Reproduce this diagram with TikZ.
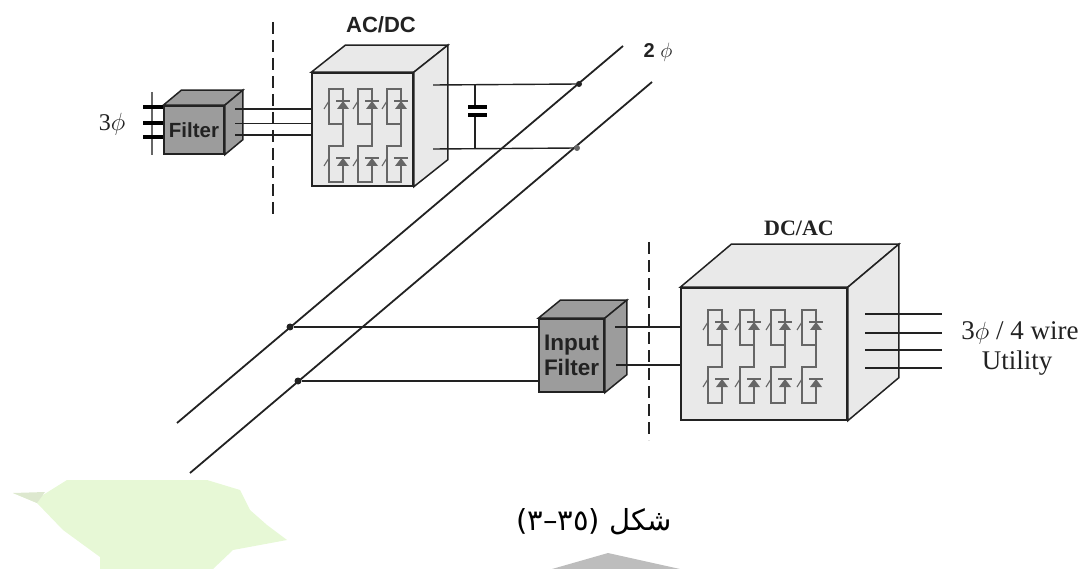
\documentclass[tikz,border=0pt]{standalone}
\usepackage{fontspec}
\setmainfont{Liberation Serif}
\setsansfont{Liberation Sans}
\newfontfamily\arabicfont[Script=Arabic]{DejaVu Sans}
\TeXXeTstate=1
\usepackage{xcolor}
\usepackage{tikz}
\usetikzlibrary{positioning}
\definecolor{pwInk}{HTML}{222222}
\definecolor{pwCell}{HTML}{666666}
\definecolor{pwLight}{HTML}{E9E9E9}
\definecolor{pwFilter}{HTML}{9C9C9C}
\definecolor{pwLeaf}{HTML}{E7F8D6}
\definecolor{pwLeafTip}{HTML}{DDE8CF}
\definecolor{pwMark}{HTML}{BDBDBD}
\tikzset{
  pw diagram/.style={x=1pt, y=-1pt, line cap=butt, line join=miter},
  pw conv/.style={draw=pwInk, fill=pwLight, line width=1.5pt, inner sep=0pt},
  pw filter/.style={draw=pwInk, fill=pwFilter, line width=1.5pt, inner sep=0pt,
    font=\sffamily\bfseries\fontsize{22.5}{25}\selectfont, text=pwInk, align=center},
  pw wire/.style={draw=pwInk, line width=1.4pt},
  pw bus/.style={draw=pwInk, line width=1.8pt},
  pw stub/.style={draw=black, line width=4.5pt},
  pw split/.style={draw=pwInk, line width=1.5pt, dash pattern=on 12pt off 6pt},
  pw dot/.style={circle, fill=pwInk, inner sep=0pt, minimum size=7pt},
  pw plate/.style={inner sep=0pt, minimum width=19pt, minimum height=4.5pt, fill=black},
  pw cell/.style={draw=pwCell, line width=1.1pt},
  pw text/.style={font=\fontsize{27}{30}\selectfont, text=pwInk, inner sep=0pt, align=center}
}
% top and side faces of a box, #1 front node, (#2,#3) depth
\newcommand{\boxfaces}[4]{
  \draw[draw=pwInk, fill=#4, line width=1.5pt]
    (#1.north west) -- ++(#2,#3) -- ([shift={(#2,#3)}]#1.north east)
    -- (#1.north east) -- cycle;
  \draw[draw=pwInk, fill=#4, line width=1.5pt]
    (#1.north east) -- ++(#2,#3) -- ([shift={(#2,#3)}]#1.south east)
    -- (#1.south east) -- cycle;
}
% one leg, two switches with their diodes, #1 x and #2 y of the top left corner
\newcommand{\switchleg}[2]{
  \begin{scope}[shift={(#1,#2)}]
    \draw[pw cell] (14,16) -- (14,0) -- (0,0) -- (0,35) -- (14,35) -- (14,57) -- (0,57) -- (0,93) -- (14,93) -- (14,72);
    \draw[pw cell] (14,16) -- (14,35);
    \draw[pw cell] (-5,20) -- (0,12);
    \draw[pw cell] (-5,77) -- (0,69);
    \fill[pwCell] (8,20) -- (20,20) -- (14,12) -- cycle;
    \fill[pwCell] (8,77) -- (20,77) -- (14,69) -- cycle;
    \draw[pw cell] (7,12) -- (21,12);
    \draw[pw cell] (7,69) -- (21,69);
  \end{scope}
}
\begin{document}
\begin{tikzpicture}[pw diagram]
\useasboundingbox (0,0) rectangle (1079,569);
% watermarks
\fill[pwLeaf] (67,480) -- (207,480) -- (240,490) -- (250,510) -- (267,525) -- (287,540) -- (233,550) -- (213,569)
  -- (100,569) -- (100,557) -- (63,530) -- (37,503) -- (13,493) -- (43,495) -- cycle;
\fill[pwLeafTip] (13,493) -- (45,492) -- (37,503) -- cycle;
\fill[pwMark] (552,569) -- (608,553) -- (680,569) -- cycle;

% front faces
\node[pw filter, font=\sffamily\bfseries\fontsize{20.5}{25}\selectfont, minimum width=60pt, minimum height=48pt] (filter) at (194,130) {Filter};
\node[pw conv, minimum width=101pt, minimum height=113pt] (acdc) at (362.5,129.5) {};
\node[pw filter, minimum width=65pt, minimum height=73pt] (inFilter) at (571.5,355.5) {Input\\Filter};
\node[pw conv, minimum width=166pt, minimum height=132pt] (dcac) at (764,354) {};
\boxfaces{filter}{18}{-15}{pwFilter}
\boxfaces{acdc}{34}{-27}{pwLight}
\boxfaces{inFilter}{22}{-18}{pwFilter}
\boxfaces{dcac}{51}{-43}{pwLight}

% switches
\foreach \xcol in {329,358,387} {\switchleg{\xcol}{89}}
\foreach \xcol in {708,740,771,802} {\switchleg{\xcol}{310}}

% bus lines
\coordinate (busAs) at (177,423);
\coordinate (busAe) at (623,46);
\coordinate (busBs) at (190,473);
\coordinate (busBe) at (652,82);
\draw[pw bus] (busAs) -- (busAe);
\draw[pw bus] (busBs) -- (busBe);
\node[pw dot, minimum size=6pt] (tapA) at (579,84) {};
\node[pw dot, minimum size=6pt, fill=pwCell] (tapB) at (577,148) {};
\node[pw dot] (tapC) at (290,327) {};
\node[pw dot] (tapD) at (298,381) {};

% split lines
\coordinate (splitAs) at (273,22);
\coordinate (splitAe) at (273,218);
\coordinate (splitBs) at (649,242);
\coordinate (splitBe) at (649,440);
\draw[pw split] (splitAs) -- (splitAe);
\draw[pw split] (splitBs) -- (splitBe);

% filter input
\coordinate (inA) at (143,107);
\coordinate (inB) at (143,123);
\coordinate (inC) at (143,137);
\coordinate (gridTop) at (152,92);
\coordinate (gridBot) at (152,155);
\draw[draw=pwCell, line width=2.2pt] (gridTop) -- (gridBot);
\foreach \wire in {inA,inB,inC} {\draw[pw stub] (\wire) -- (\wire -| filter.west);}

% filter to rectifier
\coordinate (fltA) at (235,109);
\coordinate (fltB) at (235,123.5);
\coordinate (fltC) at (235,135);
\foreach \wire in {fltA,fltB,fltC} {\draw[pw wire] (\wire) -- (\wire -| acdc.west);}

% dc link and capacitor
\coordinate (dcA) at (433,85);
\coordinate (dcB) at (433,149);
\draw[pw wire] (dcA) -- (tapA);
\draw[pw wire] (dcB) -- (tapB);
\coordinate (capTop) at (475,85);
\coordinate (capBot) at (475,149);
\node[pw plate] (capA) at (477,107) {};
\node[pw plate] (capB) at (477,115) {};
\draw[pw wire] (capTop) -- (capTop |- capA.north);
\draw[pw wire] (capBot) -- (capBot |- capB.south);

% inverter side
\draw[pw wire] (tapC) -- (tapC -| inFilter.west);
\draw[pw wire] (tapD) -- (tapD -| inFilter.west);
\coordinate (invA) at (615,327);
\coordinate (invB) at (616,365);
\draw[pw wire] (invA) -- (invA -| dcac.west);
\draw[pw wire] (invB) -- (invB -| dcac.west);

% outputs
\foreach \yout/\name in {314/outA,333/outB,350/outC,368/outD} {
  \coordinate (\name) at (865,\yout);
  \draw[pw wire] (\name) -- ++(77,0);
}

% labels
\node[pw text, font=\sffamily\bfseries\fontsize{22}{24}\selectfont] (acdcLabel) at (381,25) {AC/DC};
\node[pw text, font=\bfseries\fontsize{22}{24}\selectfont] (dcacLabel) at (799,228) {DC/AC};
\node[pw text, font=\fontsize{24}{26}\selectfont] (threeIn) at (112,124) {3$\phi$};
\node[pw text, font=\sffamily\fontsize{20}{22}\selectfont] (twoPhase) at (658,52) {\textbf{2} $\phi$};
\node[pw text] (utilA) at (1020,333) {3$\phi$ / 4 wire};
\node[pw text] (utilB) at (1017,363) {Utility};
\node[pw text, text=black, font=\fontsize{29}{32}\selectfont] (caption) at (594,522)
  {\arabicfont\beginR شكل \beginL(٣٥–٣)\endL\endR};
\end{tikzpicture}
\end{document}
